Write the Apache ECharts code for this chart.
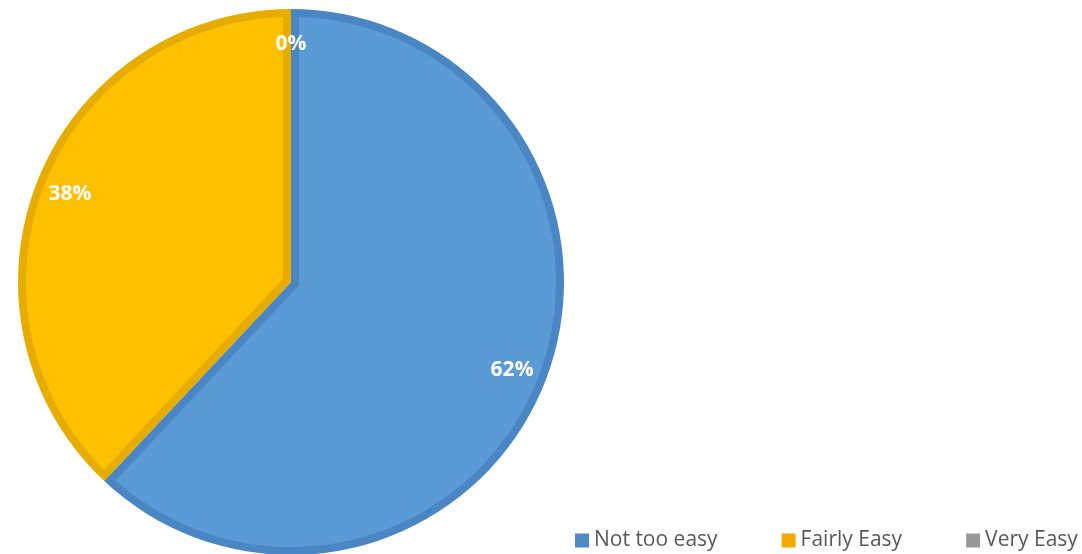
<!DOCTYPE html>
<html>
<head>
<meta charset="utf-8">
<script src="https://cdn.jsdelivr.net/npm/echarts@6/dist/echarts.min.js"></script>
<style>
  html, body { margin: 0; padding: 0; background: #ffffff; }
  #chart { width: 1082px; height: 554px; }
</style>
</head>
<body>
<div id="chart"></div>
<script>
// ---- data ----
const categories = ['Not too easy', 'Fairly Easy', 'Very Easy'];
const values = [62, 38, 0];

// ---- styles ----
const lightColors = ['#5B9BD5', '#FFC000', '#A5A5A5'];
const darkColors = ['#4A86C4', '#E6AC00', '#8C8C8C'];
const legendColors = ['#4F89C6', '#F2AB00', '#999999'];
const CX = 291, CY = 282, R = 273, BAND = 8;

const total = values.reduce((a, b) => a + b, 0);

function pieBase(extra) {
  return Object.assign({
    type: 'pie',
    startAngle: 90,
    clockwise: true,
    minAngle: 0,
    avoidLabelOverlap: false,
    silent: true,
    animation: false,
    label: { show: false },
    labelLine: { show: false },
    emphasis: { disabled: true },
    center: [CX, CY],
    radius: R
  }, extra);
}

function coloredData(colorFn) {
  return categories.map((name, i) => ({
    name: name,
    value: values[i],
    itemStyle: { color: colorFn(i), borderWidth: 0 }
  }));
}

const series = [];
// dark base (forms the inner edge bands)
series.push(pieBase({ data: coloredData(i => darkColors[i]) }));

// light fills, each inset from its own slice edges
let acc = 0;
values.forEach((v, i) => {
  const p = v / total;
  if (p > 0) {
    const midDeg = 90 - 360 * (acc + p / 2);
    const s = BAND / Math.sin(Math.PI * p);
    const cx = CX + s * Math.cos(midDeg * Math.PI / 180);
    const cy = CY - s * Math.sin(midDeg * Math.PI / 180);
    series.push(pieBase({
      center: [cx, cy],
      radius: R + 8,
      data: coloredData(j => j === i ? lightColors[j] : 'rgba(0,0,0,0)')
    }));
  }
  acc += p;
});

// dark outer rim
series.push(pieBase({ radius: [R - BAND, R], data: coloredData(i => darkColors[i]) }));
// white mask outside the pie
series.push(pieBase({ radius: [R, R + 40], data: coloredData(() => '#ffffff') }));
// labels
series.push(pieBase({
  radius: [R * 0.72, R],
  percentPrecision: 0,
  data: coloredData(() => 'rgba(0,0,0,0)'),
  label: {
    show: true,
    position: 'inside',
    formatter: '{d}%',
    color: '#ffffff',
    fontSize: 21,
    fontWeight: 'bold',
    fontFamily: 'Open Sans'
  }
}));

const chart = echarts.init(document.getElementById('chart'), null, { renderer: 'canvas' });
chart.setOption({
  backgroundColor: '#ffffff',
  animation: false,
  legend: {
    type: 'plain',
    left: 575,
    top: 530,
    width: 600,
    padding: 0,
    icon: 'rect',
    itemWidth: 14,
    itemHeight: 14,
    itemGap: 64,
    selectedMode: false,
    textStyle: { fontSize: 21, color: '#595959', fontFamily: 'Open Sans' },
    data: categories.map((name, i) => ({ name: name, itemStyle: { color: legendColors[i] } }))
  },
  series: series
});
</script>
</body>
</html>
